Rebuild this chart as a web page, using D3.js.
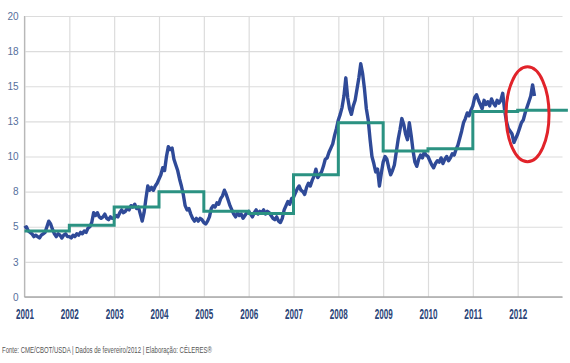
<!DOCTYPE html>
<html>
<head>
<meta charset="utf-8">
<script src="https://cdn.jsdelivr.net/npm/d3@7"></script>
<style>
  body { margin: 0; background: #fff; }
  svg { display: block; }
</style>
</head>
<body>
<div id="chart"></div>
<script>
////// DATA ////////
var years = [2001, 2002, 2003, 2004, 2005, 2006, 2007, 2008, 2009, 2010, 2011, 2012];
var yTicks = [0, 2.5, 5, 7.5, 10, 12.5, 15, 17.5, 20];
// yearly level (step line)
var yearLevel = [4.7, 5.1, 6.4, 7.5, 6.1, 5.95, 8.7, 12.4, 10.4, 10.55, 13.2, 13.3];
// price, one value every half month from jan 2001
var priceStart = 2001;
var priceStep = 1 / 24;
var price = [
  4.9, 5.0, 4.7, 4.6, 4.5, 4.3, 4.4, 4.3, 4.2, 4.4, 4.5, 4.6, 5.0, 5.4, 5.2, 4.8, 4.5, 4.3, 4.5, 4.4, 4.2, 4.4, 4.5, 4.3,
  4.3, 4.2, 4.4, 4.3, 4.5, 4.4, 4.6, 4.5, 4.7, 4.6, 4.9, 5.0, 5.3, 6.0, 5.8, 6.0, 5.7, 5.6, 5.7, 5.9, 5.6, 5.5, 5.7, 5.6,
  5.6, 5.8, 5.7, 6.0, 6.2, 6.0, 6.1, 6.3, 6.2, 6.5, 6.4, 6.6, 6.3, 6.4, 5.9, 5.4, 6.0, 7.0, 7.9, 7.6, 7.8, 7.6, 7.9, 8.1,
  8.4, 8.7, 9.2, 9.0, 10.0, 10.7, 10.5, 10.6, 9.8, 9.4, 9.0, 8.4, 7.9, 7.3, 6.5, 6.2, 6.3, 5.9, 5.6, 5.4, 5.6, 5.4, 5.6, 5.5,
  5.3, 5.2, 5.4, 5.7, 6.3, 6.5, 6.4, 6.7, 6.6, 7.0, 7.2, 7.6, 7.3, 6.9, 6.5, 6.2, 5.9, 5.7, 6.0, 5.8, 5.9, 5.6, 5.8, 6.0,
  6.1, 5.9, 5.7, 6.0, 6.2, 5.9, 6.1, 6.0, 6.2, 5.9, 6.1, 6.0, 5.8, 5.6, 5.5, 5.7, 5.4, 5.3, 5.6, 6.2, 6.5, 6.8, 6.6, 7.0,
  7.1, 7.4, 7.7, 7.9, 7.6, 7.5, 7.3, 7.8, 8.1, 7.9, 8.3, 8.6, 9.1, 8.5, 8.7, 8.9, 9.3, 9.8, 9.9, 10.3, 10.6, 10.9, 11.5, 12.0,
  12.6, 13.0, 13.5, 14.3, 15.6, 14.2, 13.4, 13.0, 13.6, 14.0, 14.8, 15.6, 16.6, 15.9, 14.8, 13.4, 12.6, 11.2, 10.0, 9.5, 8.9, 9.1, 7.9, 8.8,
  9.6, 10.0, 9.8, 9.2, 8.7, 9.0, 9.4, 10.3, 11.2, 11.9, 12.7, 12.3, 11.6, 11.2, 12.4, 11.5, 10.4, 9.6, 9.3, 9.8, 10.1, 9.9, 10.3, 10.1,
  10.0, 9.7, 9.4, 9.2, 9.5, 9.7, 9.6, 9.9, 9.5, 9.8, 10.0, 9.7, 9.9, 10.2, 10.1, 10.5, 10.8, 11.3, 11.8, 12.4, 12.7, 13.1, 12.9, 13.3,
  13.6, 14.2, 14.4, 14.0, 13.7, 13.4, 14.0, 13.7, 13.9, 13.6, 14.1, 13.8, 13.6, 14.0, 13.8, 14.0, 14.5, 13.3, 12.5, 12.0, 11.8, 11.6, 11.0, 11.3,
  11.6, 12.0, 12.4, 12.6, 13.1, 13.5, 13.9, 14.3, 15.1, 14.3
];
var footer = "Fonte: CME/CBOT/USDA  |  Dados de fevereiro/2012  |  Elaboração: CÉLERES®";
///////////////////////

var w = 570;
var h = 363;

var x = d3.scaleLinear().domain([2001, 2013]).range([24.5, 562.5]);
var y = d3.scaleLinear().domain([0, 20]).range([297, 16]);

var svg = d3.select("#chart")
  .append("svg")
  .attr("width", w)
  .attr("height", h);

// horizontal grid + y labels
var yAxis = svg.append("g")
  .attr("transform", "translate(" + x(2001) + ",0)")
  .call(d3.axisLeft(y)
    .tickValues(yTicks)
    .tickFormat(function (d) { return Math.round(d); })
    .tickSize(-(x(2013) - x(2001)))
    .tickPadding(6));
yAxis.select(".domain").remove();
yAxis.selectAll(".tick line").attr("stroke", "#dcdcdc").attr("stroke-width", 1.2);
yAxis.selectAll(".tick text")
  .attr("fill", "#56709c")
  .style("font-family", "'Liberation Sans Narrow', 'Arial Narrow', sans-serif")
  .style("font-size", "10px");

// vertical grid + year labels
var xAxis = svg.append("g")
  .attr("transform", "translate(0," + y(0) + ")")
  .call(d3.axisBottom(x)
    .tickValues(years)
    .tickFormat(d3.format("d"))
    .tickSize(-(y(0) - y(20)))
    .tickPadding(11));
xAxis.select(".domain").remove();
xAxis.selectAll(".tick line").attr("stroke", "#dcdcdc").attr("stroke-width", 1.2);
xAxis.selectAll(".tick text")
  .attr("fill", "#2b4578")
  .attr("textLength", 18)
  .attr("lengthAdjust", "spacingAndGlyphs")
  .style("font-family", "'Liberation Sans', Arial, sans-serif")
  .style("font-weight", "bold")
  .style("font-size", "15px");

// axis lines
svg.append("line")
  .attr("x1", x(2001)).attr("x2", x(2001))
  .attr("y1", y(20)).attr("y2", y(0))
  .attr("stroke", "#b8b8b8").attr("stroke-width", 1.2);
svg.append("line")
  .attr("x1", x(2001)).attr("x2", x(2013))
  .attr("y1", y(0)).attr("y2", y(0))
  .attr("stroke", "#a8a8a8").attr("stroke-width", 1.6);

// price line
var priceLine = d3.line()
  .x(function (d, i) { return x(priceStart + i * priceStep); })
  .y(function (d) { return y(d); });

svg.append("path")
  .datum(price)
  .attr("d", priceLine)
  .attr("fill", "none")
  .attr("stroke", "#2f4a98")
  .attr("stroke-width", 3.4)
  .attr("stroke-linejoin", "round");

// yearly step line
var steps = years.map(function (yr, i) { return [yr, yearLevel[i]]; });
steps.push([2013.12, yearLevel[yearLevel.length - 1]]);

svg.append("path")
  .datum(steps)
  .attr("d", d3.line()
    .curve(d3.curveStepAfter)
    .x(function (d) { return x(d[0]); })
    .y(function (d) { return y(d[1]); }))
  .attr("fill", "none")
  .attr("stroke", "#2b9282")
  .attr("stroke-width", 3);

// red circle highlight
svg.append("ellipse")
  .attr("cx", x(2012.22))
  .attr("cy", y(13.0))
  .attr("rx", 21.5)
  .attr("ry", 47.5)
  .attr("fill", "none")
  .attr("stroke", "#e1232a")
  .attr("stroke-width", 3);

// footer
svg.append("text")
  .attr("x", 2)
  .attr("y", 353)
  .attr("textLength", 210)
  .attr("lengthAdjust", "spacingAndGlyphs")
  .attr("fill", "#555")
  .style("font-family", "'Liberation Sans', Arial, sans-serif")
  .style("font-size", "8.5px")
  .text(footer);
</script>
</body>
</html>
